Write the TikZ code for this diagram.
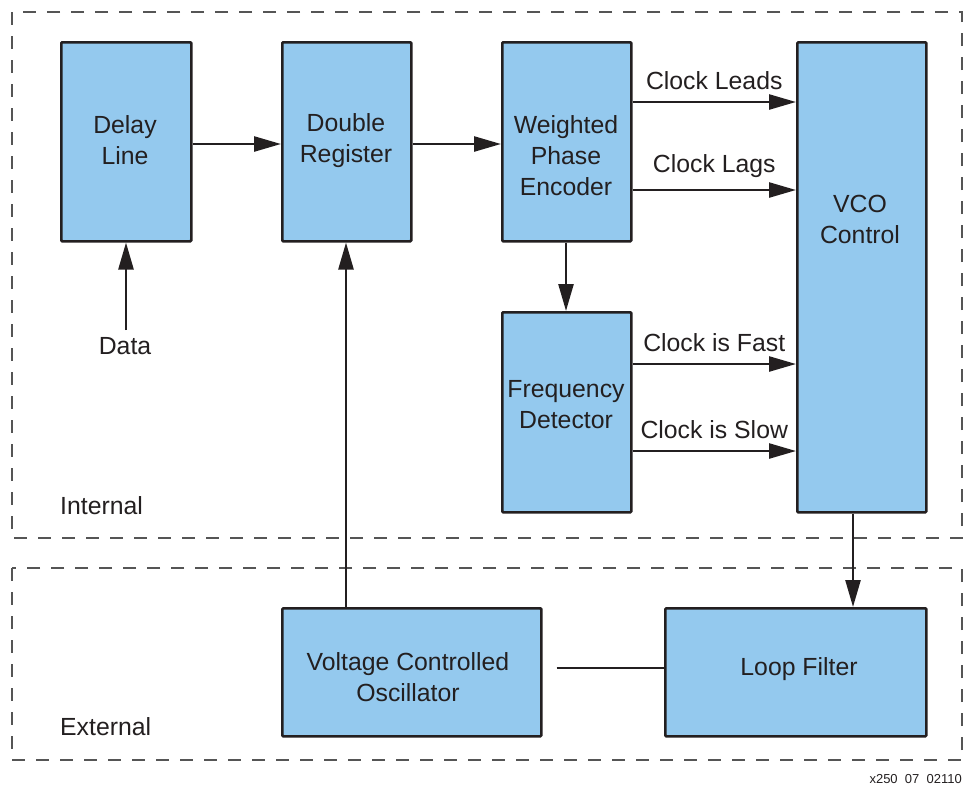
\documentclass[tikz,border=0pt]{standalone}
\usepackage{fontspec}
\setmainfont{Liberation Sans}
\usetikzlibrary{arrows.meta,calc}
\definecolor{blkfill}{HTML}{94C9EE}
\definecolor{ink}{HTML}{231F20}
\definecolor{dashc}{HTML}{555555}
\begin{document}
\begin{tikzpicture}[x=1pt,y=-1pt,
  blk/.style={draw=ink,fill=blkfill,line width=2.5pt,inner sep=0pt,anchor=north west,rounded corners=1pt},
  txt/.style={text=ink,align=center,inner sep=0pt,font=\fontsize{24.8}{31}\selectfont},
  arr/.style={draw=ink,line width=2.5pt,-{Triangle[length=27pt,width=15pt]}},
  wire/.style={draw=ink,line width=2.5pt},
  region/.style={draw=dashc,line width=1.8pt,dash pattern=on 13pt off 11pt}]
\useasboundingbox (0,0) rectangle (965,785);
% regions
\draw[region] (12,12) rectangle (962,538);
\draw[region] (12,568) rectangle (962,760);
% boxes
\node[blk,minimum width=130pt,minimum height=199pt] (dl) at (60,41) {};
\node[blk,minimum width=129pt,minimum height=199pt] (dr) at (281,41) {};
\node[blk,minimum width=129pt,minimum height=199pt] (wpe) at (501,41) {};
\node[blk,minimum width=129pt,minimum height=470pt] (vcoc) at (796,41) {};
\node[blk,minimum width=129pt,minimum height=200pt] (fd) at (501,311) {};
\node[blk,minimum width=259pt,minimum height=128pt] (vco) at (281,607) {};
\node[blk,minimum width=261pt,minimum height=128pt] (lf) at (664,607) {};
% box texts
\node[txt] (tdl) at (125,140) {Delay\\Line};
\node[txt] (tdr) at (346,141) {Double\\Register};
\node[txt] (twpe) at (566,156) {Weighted\\Phase\\Encoder};
\node[txt] (tvcoc) at (860,219) {VCO\\Control};
\node[txt] (tfd) at (566,405) {Frequency\\Detector};
\node[txt] (tvco) at (408,677) {Voltage Controlled\\Oscillator};
\node[txt] (tlf) at (799,669) {Loop Filter};
% free texts
\node[txt] (data) at (125,346) {Data};
\node[txt,anchor=west] (int) at (60,506) {Internal};
\node[txt,anchor=west] (ext) at (60,727) {External};
\node[text=ink,inner sep=0pt,anchor=east,font=\fontsize{13}{15}\selectfont] (code) at (962,779) {x250\ \ 07\ \ 02110};
% connectors
\coordinate (datatop) at (126,330);
\draw[arr] (datatop) -- (dl.south -| datatop);
\draw[arr] (dl.east |- 0,144) -- (dr.west |- 0,144);
\draw[arr] (dr.east |- 0,144) -- (wpe.west |- 0,144);
\draw[arr] (wpe.east |- 0,102) -- node[txt,above=11pt] (lleads) {Clock Leads} (vcoc.west |- 0,102);
\draw[arr] (wpe.east |- 0,190) -- node[txt,above=11pt] (llags) {Clock Lags} (vcoc.west |- 0,190);
\draw[arr] (fd.east |- 0,364) -- node[txt,above=11pt] (lfast) {Clock is Fast} (vcoc.west |- 0,364);
\draw[arr] (fd.east |- 0,451) -- node[txt,above=11pt] (lslow) {Clock is Slow} (vcoc.west |- 0,451);
\draw[arr] (wpe.south -| 566,0) -- (fd.north -| 566,0);
\draw[arr] (vcoc.south -| 853,0) -- (lf.north -| 853,0);
\draw[arr] (vco.north -| 346,0) -- (dr.south -| 346,0);
\draw[wire,shorten <=14pt] (vco.east |- 0,668) -- (lf.west |- 0,668);
\end{tikzpicture}
\end{document}
